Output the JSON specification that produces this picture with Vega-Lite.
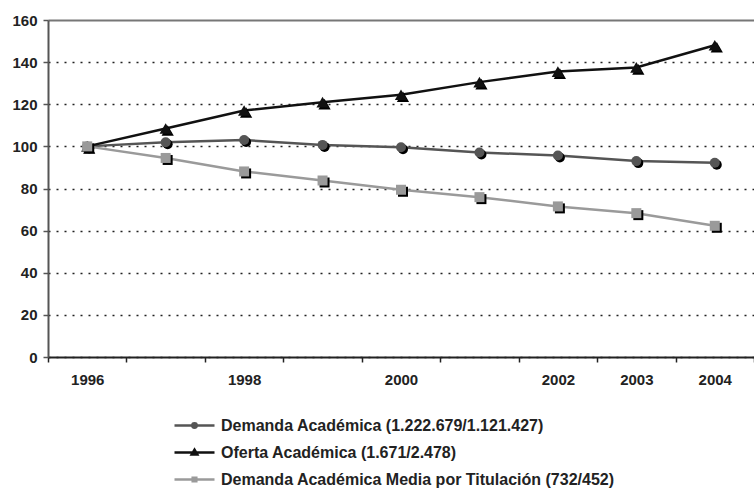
{
  "$schema": "https://vega.github.io/schema/vega-lite/v6.json",
  "width": 706,
  "height": 337,
  "autosize": "none",
  "padding": {"left": 48, "top": 20, "right": 0, "bottom": 131},
  "background": "white",
  "config": {"view": {"stroke": null}, "font": "Liberation Sans"},
  "data": {"values": [
    {"year": "1996", "serie": "Demanda Académica (1.222.679/1.121.427)", "valor": 100},
    {"year": "1997", "serie": "Demanda Académica (1.222.679/1.121.427)", "valor": 102},
    {"year": "1998", "serie": "Demanda Académica (1.222.679/1.121.427)", "valor": 103},
    {"year": "1999", "serie": "Demanda Académica (1.222.679/1.121.427)", "valor": 100.7},
    {"year": "2000", "serie": "Demanda Académica (1.222.679/1.121.427)", "valor": 99.6},
    {"year": "2001", "serie": "Demanda Académica (1.222.679/1.121.427)", "valor": 97.1},
    {"year": "2002", "serie": "Demanda Académica (1.222.679/1.121.427)", "valor": 95.7},
    {"year": "2003", "serie": "Demanda Académica (1.222.679/1.121.427)", "valor": 93},
    {"year": "2004", "serie": "Demanda Académica (1.222.679/1.121.427)", "valor": 92.2},
    {"year": "1996", "serie": "Oferta Académica (1.671/2.478)", "valor": 100},
    {"year": "1997", "serie": "Oferta Académica (1.671/2.478)", "valor": 108.5},
    {"year": "1998", "serie": "Oferta Académica (1.671/2.478)", "valor": 117},
    {"year": "1999", "serie": "Oferta Académica (1.671/2.478)", "valor": 121},
    {"year": "2000", "serie": "Oferta Académica (1.671/2.478)", "valor": 124.5},
    {"year": "2001", "serie": "Oferta Académica (1.671/2.478)", "valor": 130.5},
    {"year": "2002", "serie": "Oferta Académica (1.671/2.478)", "valor": 135.5},
    {"year": "2003", "serie": "Oferta Académica (1.671/2.478)", "valor": 137.5},
    {"year": "2004", "serie": "Oferta Académica (1.671/2.478)", "valor": 148},
    {"year": "1996", "serie": "Demanda Académica Media por Titulación (732/452)", "valor": 100},
    {"year": "1997", "serie": "Demanda Académica Media por Titulación (732/452)", "valor": 94.5},
    {"year": "1998", "serie": "Demanda Académica Media por Titulación (732/452)", "valor": 88.1},
    {"year": "1999", "serie": "Demanda Académica Media por Titulación (732/452)", "valor": 83.8},
    {"year": "2000", "serie": "Demanda Académica Media por Titulación (732/452)", "valor": 79.4},
    {"year": "2001", "serie": "Demanda Académica Media por Titulación (732/452)", "valor": 75.9},
    {"year": "2002", "serie": "Demanda Académica Media por Titulación (732/452)", "valor": 71.5},
    {"year": "2003", "serie": "Demanda Académica Media por Titulación (732/452)", "valor": 68.3},
    {"year": "2004", "serie": "Demanda Académica Media por Titulación (732/452)", "valor": 62.3}
  ]},
  "encoding": {
    "x": {
      "field": "year", "type": "ordinal",
      "scale": {"type": "band", "paddingInner": 0, "paddingOuter": 0},
      "axis": {
        "title": null, "labelAngle": 0, "tickBand": "extent",
        "labelExpr": "indexof(['1997','1999','2001'], datum.value) >= 0 ? '' : datum.value",
        "labelFont": "Liberation Sans", "labelFontWeight": "bold", "labelFontSize": 15, "labelColor": "#222",
        "labelPadding": 10, "tickSize": 5, "tickColor": "#222", "tickWidth": 1.5,
        "domainColor": "#222", "domainWidth": 2, "grid": false
      }
    },
    "y": {
      "field": "valor", "type": "quantitative",
      "scale": {"domain": [0, 160]},
      "axis": {
        "title": null, "values": [0, 20, 40, 60, 80, 100, 120, 140, 160],
        "labelFont": "Liberation Sans", "labelFontWeight": "bold", "labelFontSize": 15, "labelColor": "#222",
        "labelPadding": 6, "tickSize": 5, "tickColor": "#555", "tickWidth": 1.5,
        "domainColor": "#555", "domainWidth": 2,
        "grid": true,
        "gridColor": {"condition": {"test": "datum.value === 160", "value": "#777777"}, "value": "#222222"},
        "gridDash": {"condition": {"test": "datum.value === 160", "value": []}, "value": [2, 6]},
        "gridWidth": {"condition": {"test": "datum.value === 160", "value": 2}, "value": 1.5}
      }
    },
    "color": {
      "field": "serie", "type": "nominal",
      "scale": {
        "domain": ["Demanda Académica (1.222.679/1.121.427)", "Oferta Académica (1.671/2.478)", "Demanda Académica Media por Titulación (732/452)"],
        "range": ["#555555", "#111111", "#9a9a9a"]
      },
      "legend": {
        "title": null, "orient": "none", "legendX": 135, "legendY": 394,
        "direction": "vertical",
        "labelFont": "Liberation Sans", "labelFontWeight": "bold", "labelFontSize": 16, "labelColor": "#222",
        "labelLimit": 0, "rowPadding": 7, "labelOffset": 15, "symbolSize": 400, "symbolStrokeWidth": 2.5,
        "encode": {
          "symbols": {
            "update": {
              "shape": {"signal": "datum.index === 0 ? 'M-2,0H2M0.22,0A0.22,0.22 0 1,1 -0.22,0A0.22,0.22 0 1,1 0.22,0Z' : datum.index === 1 ? 'M-2,0H2M0,-0.28L0.28,0.2L-0.28,0.2Z' : 'M-2,0H2M-0.18,-0.18H0.18V0.18H-0.18Z'"},
              "fill": {"scale": "color", "field": "value"},
              "stroke": {"scale": "color", "field": "value"},
              "strokeWidth": {"value": 2.5},
              "opacity": {"value": 1}
            }
          }
        }
      }
    }
  },
  "layer": [
    {"mark": {"type": "line", "strokeWidth": 2.5}},
    {
      "transform": [{"filter": "datum.serie === 'Demanda Académica (1.222.679/1.121.427)'"}],
      "mark": {"type": "point", "shape": "circle", "size": 100, "filled": true, "opacity": 1, "xOffset": 2, "yOffset": 2},
      "encoding": {"color": {"value": "#000000"}}
    },
    {
      "transform": [{"filter": "datum.serie === 'Demanda Académica (1.222.679/1.121.427)'"}],
      "mark": {"type": "point", "shape": "circle", "size": 100, "filled": true, "opacity": 1}
    },
    {
      "transform": [{"filter": "datum.serie === 'Oferta Académica (1.671/2.478)'"}],
      "mark": {"type": "point", "shape": "triangle-up", "size": 150, "filled": true, "opacity": 1, "xOffset": 2, "yOffset": 2},
      "encoding": {"color": {"value": "#000000"}}
    },
    {
      "transform": [{"filter": "datum.serie === 'Oferta Académica (1.671/2.478)'"}],
      "mark": {"type": "point", "shape": "triangle-up", "size": 150, "filled": true, "opacity": 1}
    },
    {
      "transform": [{"filter": "datum.serie === 'Demanda Académica Media por Titulación (732/452)'"}],
      "mark": {"type": "point", "shape": "square", "size": 100, "filled": true, "opacity": 1, "xOffset": 2, "yOffset": 2},
      "encoding": {"color": {"value": "#000000"}}
    },
    {
      "transform": [{"filter": "datum.serie === 'Demanda Académica Media por Titulación (732/452)'"}],
      "mark": {"type": "point", "shape": "square", "size": 100, "filled": true, "opacity": 1}
    }
  ]
}
